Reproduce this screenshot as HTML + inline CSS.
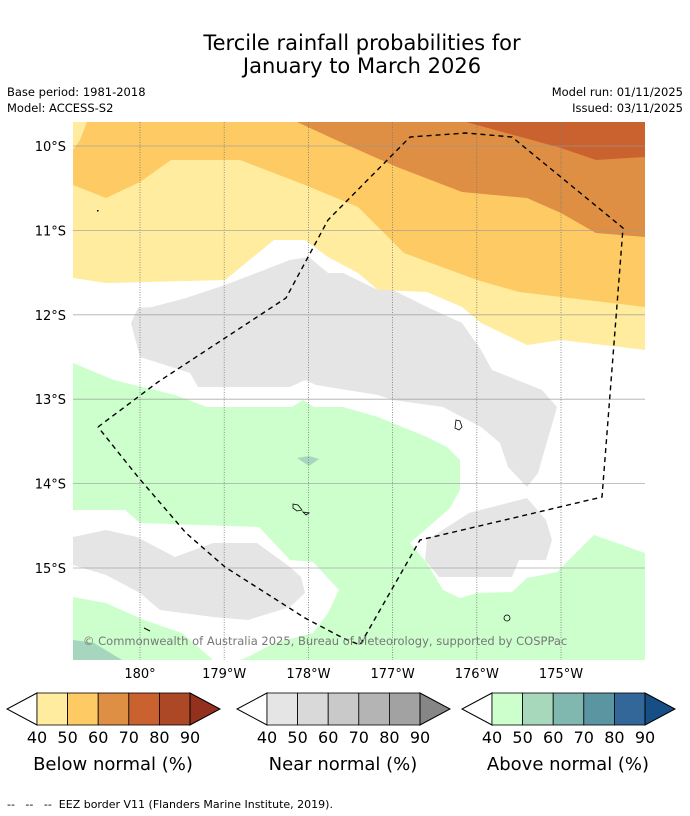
<!DOCTYPE html>
<html><head><meta charset="utf-8"><style>
body{margin:0;background:#fff;}
svg{display:block;font-family:"DejaVu Sans","Liberation Sans",sans-serif;}
</style></head><body>
<svg id="root" width="690" height="816" viewBox="0 0 690 816">
<rect width="690" height="816" fill="#fff"/>
<text x="362" y="50" font-size="21" text-anchor="middle">Tercile rainfall probabilities for</text>
<text x="362" y="73" font-size="21" text-anchor="middle">January to March 2026</text>
<text x="7" y="96" font-size="11.5">Base period: 1981-2018</text>
<text x="7" y="112" font-size="11.5">Model: ACCESS-S2</text>
<text x="683" y="96" font-size="11.5" text-anchor="end">Model run: 01/11/2025</text>
<text x="683" y="112" font-size="11.5" text-anchor="end">Issued: 03/11/2025</text>

<defs><clipPath id="mc"><rect x="73" y="122" width="572" height="538"/></clipPath></defs>
<g clip-path="url(#mc)">
<rect x="73" y="122" width="572" height="538" fill="#fff"/>
<polygon fill="#ccffcc" points="73,363 114,380 175,395 207,407 292,407 303,400 314,407 343,407 378,417 427,437 447,447 460,460 460,490 450,508 410,543 427,563 443,590 460,598 477,593 512,592 527,578 557,572 594,535 645,553 645,660 73,660"/>
<polygon fill="#fff" points="73,510 125,510 140,523 259,527 290,560 313,562 339,590 328,613 313,633 274,643 250,656 240,660 213,660 182,633 144,620 106,603 73,597"/>
<polygon fill="#a6d6bd" points="73,640 94,643 122,660 73,660"/>
<polygon fill="#a6d6bd" points="297,458 309,456 319,459 309,466"/>
<polygon fill="#ffec9e" points="73,122 645,122 645,350 561,340 527,345 481,323 462,307 427,292 378,290 358,273 328,257 305,240 274,240 225,280 106,283 73,278"/>
<polygon fill="#feca63" points="87,122 645,122 645,307 519,292 477,280 404,253 358,207 305,185 240,160 171,160 140,182 106,198 73,185 73,150 80,140"/>
<polygon fill="#de8f43" points="297,122 645,122 645,237 596,233 561,213 527,198 462,192 397,167 336,140"/>
<polygon fill="#ca6230" points="466,122 645,122 645,157 596,160 561,148"/>
<polygon fill="#e5e5e5" points="309,257 328,273 343,273 378,290 393,290 427,307 462,323 481,350 492,370 542,390 557,407 538,473 527,487 508,467 500,443 481,427 443,407 393,400 378,395 316,385 305,380 290,387 198,387 190,373 140,357 131,323 138,308 152,307 186,298 225,285 290,260"/>
<polygon fill="#e5e5e5" points="427,540 469,513 527,498 546,520 552,540 546,560 519,560 512,577 439,577 425,560"/>
<polygon fill="#e5e5e5" points="73,537 106,530 137,537 175,557 213,543 257,543 290,567 301,577 305,593 290,607 248,620 213,617 160,610 140,593 106,575 73,565"/>
<g id="grid" stroke-width="0.8"></g>
<path d="M456,420 l4,1 l2,6 l-3,3 l-4,-2 z" fill="none" stroke="#000" stroke-width="0.8"/>
<path d="M293,504 l5,1 l4,5 l-5,1 l-4,-3 z M303,512 l6,1 l-3,2 z" fill="none" stroke="#000" stroke-width="0.8"/>
<circle cx="507" cy="618" r="3" fill="none" stroke="#000" stroke-width="0.8"/>
<line x1="144" y1="628" x2="150" y2="631" stroke="#000" stroke-width="1"/>
<rect x="97" y="210" width="1.5" height="1.5" fill="#000"/>
<polyline fill="none" stroke="#000" stroke-width="1.4" stroke-dasharray="5,4" points="98,427 158,382 286,298 328,220 410,137 466,133 512,137 623,228 602,497 420,540 360,645 343,638 305,618 225,567 186,533 138,477 98,427"/>
<text x="83" y="645" font-size="11.5" fill="#777">© Commonwealth of Australia 2025, Bureau of Meteorology, supported by COSPPac</text>
</g>
<g id="axes"></g>
<g id="cbars"></g>
<text x="7" y="808" font-size="11" xml:space="preserve">--   --   --  EEZ border V11 (Flanders Marine Institute, 2019).</text>
</svg>
<script>
const lonLabels=["180°","179°W","178°W","177°W","176°W","175°W"];
const lonValues=[180,181,182,183,184,185];
const latLabels=["10°S","11°S","12°S","13°S","14°S","15°S"];
const latValues=[10,11,12,13,14,15];
const cbTicks=["40","50","60","70","80","90"];
const cbTitles=["Below normal (%)","Near normal (%)","Above normal (%)"];
const cbColors=[
 ["#ffec9e","#feca63","#de8f43","#ca6230","#ac4826","#94311e"],
 ["#e5e5e5","#d9d9d9","#c9c9c9","#b4b4b4","#a2a2a2","#868686"],
 ["#ccffcc","#a8d8bb","#80b8af","#5c95a2","#336699","#164f86"]];
const NS="http://www.w3.org/2000/svg";
function xs(lon){return 140+(lon-180)*84.2;}
function ys(lat){return 146+(lat-10)*84.4;}
function mk(t,a,p){const e=document.createElementNS(NS,t);for(const k in a)e.setAttribute(k,a[k]);p.appendChild(e);return e;}
const grid=document.getElementById('grid'),axes=document.getElementById('axes');
lonValues.forEach((v,i)=>{
 const l=mk('line',{x1:xs(v),x2:xs(v),y1:122,y2:660,stroke:'#777','stroke-dasharray':'1,1.5','stroke-width':0.8},grid);
 
 
 const t=mk('text',{x:xs(v),y:678,'font-size':13,'text-anchor':'middle'},axes);t.textContent=lonLabels[i];
 
 
});
latValues.forEach((v,i)=>{
 const l=mk('line',{x1:73,x2:645,y1:ys(v),y2:ys(v),stroke:'#999','stroke-width':0.8,opacity:0.8},grid);
 
 
 const t=mk('text',{x:66,y:ys(v)+5,'font-size':13,'text-anchor':'end'},axes);t.textContent=latLabels[i];
 
 
});
const cb=document.getElementById('cbars');
const starts=[37,267,492];
starts.forEach((x0,k)=>{
 const g=mk('g',{},cb);
 
 
 const w=153/5,y0=693,h=32,ym=y0+h/2;
 mk('polygon',{points:`${x0},${y0} ${x0-30},${ym} ${x0},${y0+h}`,fill:'#fff',stroke:'#000','stroke-width':1},g);
 for(let i=0;i<5;i++){const r=mk('rect',{x:x0+i*w,y:y0,width:w,height:h,fill:cbColors[k][i],stroke:'#000','stroke-width':0.8},g);
  
  }
 const xe=x0+153;
 mk('polygon',{points:`${xe},${y0} ${xe+30},${ym} ${xe},${y0+h}`,fill:cbColors[k][5],stroke:'#000','stroke-width':1},g);
 cbTicks.forEach((s,i)=>{const t=mk('text',{x:x0+i*w,y:743,'font-size':16,'text-anchor':'middle'},g);t.textContent=s;
  
  });
 const tt=mk('text',{x:x0+76,y:770,'font-size':18,'text-anchor':'middle'},g);tt.textContent=cbTitles[k];
 
 
});
</script>
</body></html>
